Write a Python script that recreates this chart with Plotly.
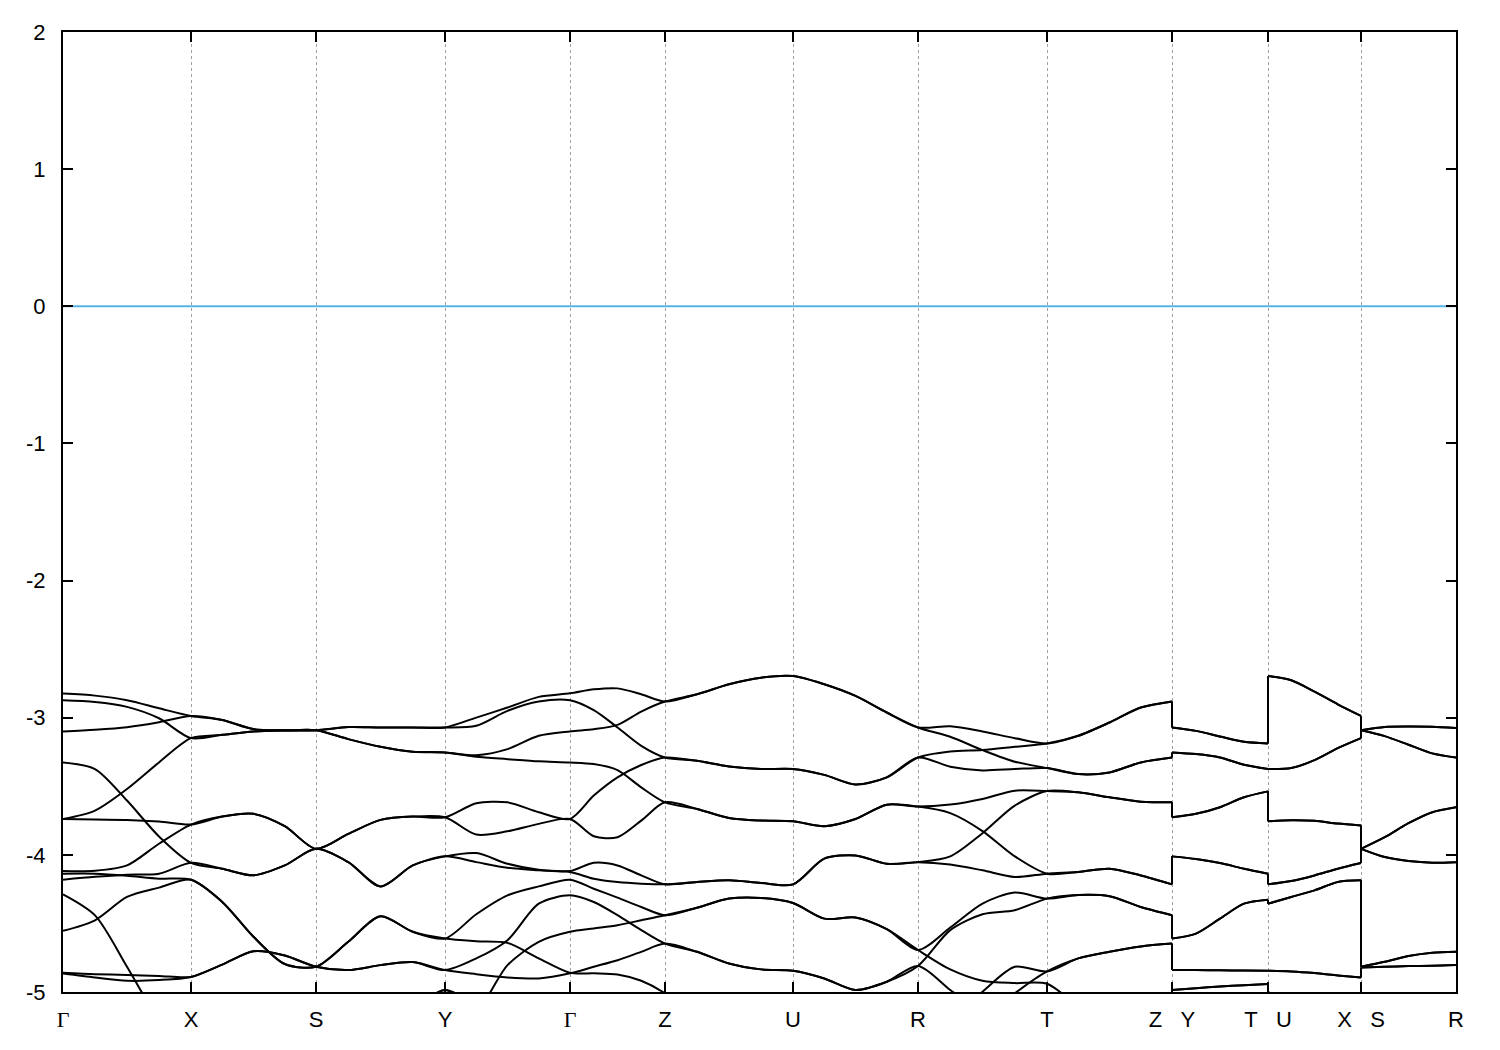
import plotly.graph_objects as go

# ---------------- path / axes data ----------------
node_k = [0.0, 1.28, 2.53, 3.82, 5.07, 6.02, 7.30, 8.55, 9.84, 11.09, 12.05, 12.98, 13.93]
GAMMA = '<span style="font-family:Liberation Serif">Γ</span>'
NB = "\u00a0\u00a0\u00a0"
node_labels = [GAMMA, "X", "S", "Y", GAMMA, "Z", "U", "R", "T",
               "Z" + NB + "Y", "T" + NB + "U", "X" + NB + "S", "R"]
sample_fractions = [0.0, 0.25, 0.5, 0.75]
# continuous pieces of the path (node index ranges); jumps at Z|Y, T|U, X|S
sections = [(0, 9), (9, 10), (10, 11), (11, 12)]
y_tick_values = [-5, -4, -3, -2, -1, 0, 1, 2]
y_tick_labels = ["-5", "-4", "-3", "-2", "-1", "0", "1", "2"]
fermi_level = 0.0

# ---------------- band energies (eV) ----------------
# section 1 (Γ-X-S-Y-Γ-Z-U-R-T-Z): 4 samples per segment + end, then Y-T, U-X, S-R (5 each)
band_01 = [-2.824, -2.839, -2.873, -2.931, -2.987, -3.016, -3.083, -3.091, -3.091, -3.068, -3.071, -3.071,
           -3.071, -2.999, -2.926, -2.848, -2.822, -2.793, -2.786, -2.829, -2.882, -2.829, -2.756, -2.708,
           -2.696, -2.756, -2.841, -2.962, -3.071, -3.062, -3.100, -3.149, -3.188, -3.132, -3.035, -2.926, -2.882,
           -3.071, -3.096, -3.137, -3.176, -3.188,
           -2.696, -2.727, -2.810, -2.902, -2.987,
           -3.091, -3.067, -3.064, -3.066, -3.075]
band_02 = [-2.873, -2.885, -2.921, -3.004, -3.149, -3.125, -3.100, -3.093, -3.091, -3.156, -3.212, -3.248,
           -3.253, -3.273, -3.229, -3.132, -3.100, -3.084, -3.052, -2.955, -2.882, -2.829, -2.756, -2.708,
           -2.696, -2.756, -2.841, -2.962, -3.071, -3.139, -3.236, -3.321, -3.367, -3.411, -3.399, -3.326, -3.290,
           -3.253, -3.265, -3.290, -3.343, -3.374,
           -3.374, -3.367, -3.309, -3.222, -3.149,
           -3.091, -3.134, -3.197, -3.260, -3.290]
band_03 = [-3.100, -3.088, -3.069, -3.033, -2.987, -3.016, -3.083, -3.091, -3.091, -3.068, -3.071, -3.071,
           -3.071, -3.059, -2.950, -2.882, -2.873, -2.945, -3.071, -3.205, -3.290, -3.314, -3.355, -3.374,
           -3.374, -3.417, -3.487, -3.435, -3.290, -3.246, -3.236, -3.212, -3.188, -3.132, -3.035, -2.926, -2.882,
           -3.071, -3.096, -3.137, -3.176, -3.188,
           -2.696, -2.727, -2.810, -2.902, -2.987,
           -3.091, -3.067, -3.064, -3.066, -3.075]
band_04 = [-3.326, -3.374, -3.604, -3.866, -4.058, -4.101, -4.149, -4.077, -3.956, -4.053, -4.230, -4.077,
           -4.011, -3.987, -4.065, -4.109, -4.118, -4.058, -4.077, -4.150, -4.215, -4.198, -4.186, -4.205,
           -4.215, -4.028, -4.004, -4.065, -4.053, -4.011, -3.842, -3.641, -3.535, -3.544, -3.580, -3.612, -3.617,
           -3.726, -3.701, -3.653, -3.580, -3.537,
           -3.755, -3.748, -3.752, -3.772, -3.786,
           -3.956, -3.871, -3.769, -3.689, -3.653]
band_05 = [-3.738, -3.677, -3.520, -3.326, -3.149, -3.125, -3.100, -3.093, -3.091, -3.156, -3.212, -3.248,
           -3.253, -3.285, -3.302, -3.318, -3.326, -3.338, -3.382, -3.508, -3.617, -3.665, -3.731, -3.750,
           -3.755, -3.791, -3.738, -3.634, -3.648, -3.633, -3.592, -3.532, -3.535, -3.544, -3.580, -3.612, -3.617,
           -3.726, -3.701, -3.653, -3.580, -3.537,
           -3.755, -3.748, -3.752, -3.772, -3.786,
           -3.956, -3.871, -3.769, -3.689, -3.653]
band_06 = [-3.738, -3.743, -3.745, -3.757, -3.779, -3.721, -3.701, -3.791, -3.956, -3.847, -3.745, -3.721,
           -3.726, -3.624, -3.617, -3.689, -3.738, -3.568, -3.435, -3.345, -3.290, -3.314, -3.355, -3.374,
           -3.374, -3.417, -3.487, -3.435, -3.290, -3.357, -3.384, -3.374, -3.367, -3.411, -3.399, -3.326, -3.290,
           -3.253, -3.265, -3.290, -3.343, -3.374,
           -3.374, -3.367, -3.309, -3.222, -3.149,
           -3.091, -3.134, -3.197, -3.260, -3.290]
band_07 = [-4.118, -4.116, -4.077, -3.919, -3.779, -3.721, -3.701, -3.791, -3.956, -3.847, -3.745, -3.721,
           -3.726, -3.852, -3.828, -3.774, -3.738, -3.864, -3.871, -3.750, -3.617, -3.665, -3.731, -3.750,
           -3.755, -3.791, -3.738, -3.634, -3.648, -3.696, -3.827, -4.011, -4.137, -4.125, -4.101, -4.150, -4.215,
           -4.011, -4.031, -4.060, -4.101, -4.137,
           -4.215, -4.191, -4.150, -4.101, -4.060,
           -3.956, -4.016, -4.045, -4.057, -4.053]
band_08 = [-4.137, -4.137, -4.152, -4.174, -4.181, -4.343, -4.597, -4.796, -4.816, -4.634, -4.448, -4.561,
           -4.610, -4.433, -4.295, -4.230, -4.181, -4.247, -4.312, -4.380, -4.440, -4.385, -4.319, -4.314,
           -4.351, -4.465, -4.457, -4.542, -4.694, -4.530, -4.355, -4.275, -4.319, -4.293, -4.302, -4.380, -4.440,
           -4.610, -4.574, -4.465, -4.356, -4.327,
           -4.356, -4.307, -4.259, -4.198, -4.186,
           -4.816, -4.780, -4.738, -4.714, -4.707]
band_09 = [-4.181, -4.160, -4.145, -4.137, -4.058, -4.101, -4.149, -4.077, -3.956, -4.053, -4.230, -4.077,
           -4.011, -4.053, -4.094, -4.113, -4.125, -4.174, -4.198, -4.210, -4.215, -4.198, -4.186, -4.205,
           -4.215, -4.028, -4.004, -4.065, -4.053, -4.070, -4.113, -4.162, -4.137, -4.125, -4.101, -4.150, -4.215,
           -4.011, -4.031, -4.060, -4.101, -4.137,
           -4.215, -4.191, -4.150, -4.101, -4.060,
           -3.956, -4.016, -4.045, -4.057, -4.053]
band_10 = [-4.288, -4.441, -4.816, -5.220, -5.600, -5.700, -5.700, -5.700, -5.600, -5.500, -5.350, -5.150,
           -4.985, -5.120, -4.804, -4.634, -4.561, -4.537, -4.513, -4.477, -4.440, -4.385, -4.319, -4.314,
           -4.351, -4.465, -4.457, -4.542, -4.694, -4.835, -4.918, -4.935, -4.940, -5.100, -5.200, -5.150, -5.010,
           -4.985, -4.972, -4.960, -4.950, -4.942,
           -5.000, -5.100, -5.200, -5.200, -5.200,
           -5.300, -5.300, -5.300, -5.300, -5.300]
band_11 = [-4.554, -4.477, -4.307, -4.239, -4.181, -4.343, -4.597, -4.796, -4.816, -4.634, -4.448, -4.561,
           -4.610, -4.630, -4.642, -4.755, -4.860, -4.864, -4.872, -4.918, -5.010, -5.200, -5.300, -5.300,
           -5.200, -5.200, -5.300, -5.300, -5.300, -5.200, -4.998, -4.816, -4.850, -4.755, -4.707, -4.668, -4.647,
           -4.840, -4.840, -4.842, -4.843, -4.845,
           -4.845, -4.850, -4.862, -4.879, -4.894,
           -4.821, -4.816, -4.811, -4.809, -4.804]
band_12 = [-4.860, -4.870, -4.876, -4.883, -4.890, -4.800, -4.703, -4.734, -4.816, -4.840, -4.804, -4.782,
           -4.840, -4.755, -4.622, -4.356, -4.295, -4.344, -4.440, -4.549, -4.647, -4.707, -4.792, -4.835,
           -4.845, -4.901, -4.985, -4.925, -4.810, -4.549, -4.433, -4.404, -4.319, -4.293, -4.302, -4.380, -4.440,
           -4.610, -4.574, -4.465, -4.356, -4.327,
           -4.356, -4.307, -4.259, -4.198, -4.186,
           -4.816, -4.780, -4.738, -4.714, -4.707]
band_13 = [-4.865, -4.894, -4.918, -4.913, -4.890, -4.800, -4.703, -4.734, -4.816, -4.840, -4.804, -4.782,
           -4.840, -4.870, -4.894, -4.901, -4.864, -4.816, -4.768, -4.707, -4.647, -4.707, -4.792, -4.835,
           -4.845, -4.901, -4.985, -4.925, -4.810, -4.985, -5.150, -5.250, -5.300, -5.350, -5.400, -5.400, -5.400,
           -4.985, -4.972, -4.960, -4.950, -4.942,
           -5.000, -5.100, -5.200, -5.200, -5.200,
           -5.300, -5.300, -5.300, -5.300, -5.300]
band_14 = [-5.500, -5.500, -5.500, -5.500, -5.500, -5.500, -5.500, -5.500, -5.500, -5.450, -5.300, -5.120,
           -4.985, -5.100, -5.300, -5.400, -5.450, -5.500, -5.500, -5.500, -5.500, -5.500, -5.500, -5.500,
           -5.500, -5.500, -5.500, -5.500, -5.500, -5.400, -5.200, -5.010, -4.850, -4.755, -4.707, -4.668, -4.647,
           -4.840, -4.840, -4.842, -4.843, -4.845,
           -4.845, -4.850, -4.862, -4.879, -4.894,
           -4.821, -4.816, -4.811, -4.809, -4.804]

bands = [band_01, band_02, band_03, band_04, band_05, band_06, band_07,
         band_08, band_09, band_10, band_11, band_12, band_13, band_14]


def section_k(a, b):
    ks = []
    for i in range(a, b):
        for f in sample_fractions:
            ks.append(node_k[i] + f * (node_k[i + 1] - node_k[i]))
    ks.append(node_k[b])
    return ks


section_ks = [section_k(a, b) for a, b in sections]

fig = go.Figure()

# Fermi level
fig.add_trace(go.Scatter(x=[node_k[0], node_k[-1]], y=[fermi_level, fermi_level], mode="lines",
                         line=dict(color="#56B4E9", width=2), hoverinfo="skip", showlegend=False))

jump_x, jump_y = [], []
for band in bands:
    xs, ys = [], []
    pos = 0
    pieces = []
    for ks in section_ks:
        vals = band[pos:pos + len(ks)]
        pos += len(ks)
        pieces.append(vals)
        xs += ks + [None]
        ys += vals + [None]
    fig.add_trace(go.Scatter(x=xs, y=ys, mode="lines", line=dict(color="black", width=2, shape="spline", smoothing=0.8),
                             hoverinfo="skip", showlegend=False, connectgaps=False))
    for j in range(len(sections) - 1):
        kx = node_k[sections[j][1]]
        jump_x += [kx, kx, None]
        jump_y += [pieces[j][-1], pieces[j + 1][0], None]

fig.add_trace(go.Scatter(x=jump_x, y=jump_y, mode="lines", line=dict(color="black", width=2),
                         hoverinfo="skip", showlegend=False, connectgaps=False))

font = dict(family="Liberation Sans, Arial, sans-serif", size=22, color="black")
fig.update_layout(
    width=1500, height=1050,
    margin=dict(l=55, r=52, t=21, b=66),
    paper_bgcolor="white", plot_bgcolor="white",
    font=font, showlegend=False,
)
fig.update_xaxes(
    range=[node_k[0], node_k[-1]], tickmode="array", tickvals=node_k, ticktext=node_labels,
    ticks="inside", ticklen=10, tickwidth=1.5, tickcolor="black",
    showline=True, linewidth=2, linecolor="black", mirror="ticks",
    showgrid=True, gridcolor="#a0a0a0", gridwidth=1, griddash="3px,3px",
    zeroline=False, tickfont=font, ticklabelstandoff=7,
)
fig.update_yaxes(
    range=[-5, 2], tickmode="array", tickvals=y_tick_values, ticktext=y_tick_labels,
    ticks="inside", ticklen=10, tickwidth=1.5, tickcolor="black",
    showline=True, linewidth=2, linecolor="black", mirror="ticks",
    showgrid=False, zeroline=False, tickfont=font, ticklabelstandoff=11,
)

fig.write_html("out.html")
